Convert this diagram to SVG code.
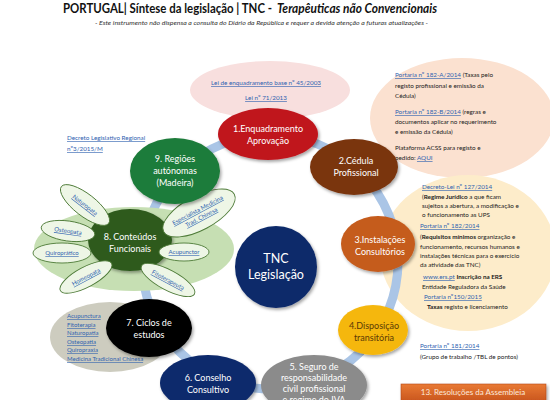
<svg xmlns="http://www.w3.org/2000/svg" width="550" height="400" viewBox="0 0 550 400">
<defs>
<style>
text{font-family:Lato,"Liberation Sans",sans-serif}
.w{fill:#fff}
.lk{fill:#2f62b0;text-decoration:underline}
.sm{font-size:6.3px;fill:#222}
.nd{font-size:9px;text-anchor:middle}
.petal{fill:#eef6e6;stroke:#4d7a37;stroke-width:0.9}
.ptx{font-size:6px;text-anchor:middle;fill:#2f62b0;text-decoration:underline}
.b{font-weight:bold}
.ttl{font-size:12.5px;font-weight:bold;fill:#111}
</style>
<filter id="sh" x="-20%" y="-20%" width="140%" height="150%">
<feDropShadow dx="1.5" dy="2" stdDeviation="1.6" flood-color="#000" flood-opacity="0.35"/>
</filter>
<linearGradient id="og" x1="0" y1="0" x2="0" y2="1">
<stop offset="0" stop-color="#e97a34"/>
<stop offset="1" stop-color="#c4501a"/>
</linearGradient>
</defs>
<rect width="550" height="400" fill="#fff"/>

<g id="title">
<text class="ttl" x="63" y="13" textLength="209" lengthAdjust="spacingAndGlyphs">PORTUGAL| Síntese da legislação | TNC -</text>
<text class="ttl" x="277" y="13" font-style="italic" textLength="160" lengthAdjust="spacingAndGlyphs">Terapêuticas não Convencionais</text>
<text x="95" y="25" font-size="6.4" font-style="italic" fill="#333" textLength="333" lengthAdjust="spacingAndGlyphs">- Este instrumento não dispensa a consulta do Diário da República e requer a devida atenção a futuras atualizações -</text>
</g>

<g id="bg-lei">
<ellipse cx="270" cy="90" rx="80" ry="29" fill="#f8dfde"/>
<text x="266" y="85" class="lk" font-size="6.3" text-anchor="middle">Lei de enquadramento base nº 45/2003</text>
<text x="266" y="100" class="lk" font-size="6.3" text-anchor="middle">Lei nº 71/2013</text>
</g>

<g id="bg-cedula">
<ellipse cx="462" cy="118" rx="92" ry="60" fill="#fbe1d0"/>
<text class="sm" x="395" y="77"><tspan class="lk">Portaria nº 182-A/2014</tspan> (Taxas pelo</text>
<text class="sm" x="395" y="88">registo profissional e emissão da</text>
<text class="sm" x="395" y="98">Cédula)</text>
<text class="sm" x="395" y="114"><tspan class="lk">Portaria nº 182-B/2014</tspan> (regras e</text>
<text class="sm" x="395" y="124">documentos aplicar no requerimento</text>
<text class="sm" x="395" y="134">e emissão da Cédula)</text>
<text class="sm" x="395" y="150">Plataforma ACSS para registo e</text>
<text class="sm" x="395" y="160">pedido: <tspan class="lk">AQUI</tspan></text>
</g>

<g id="bg-instalacoes">
<ellipse cx="468" cy="253" rx="88" ry="78" fill="#fdecca"/>
<text class="sm" x="422" y="189"><tspan class="lk">Decreto-Lei nº 127/2014</tspan></text>
<text class="sm" x="422" y="199">(<tspan class="b">Regime Jurídico</tspan> a que ficam</text>
<text class="sm" x="422" y="208">sujeitos  a abertura, a modificação e</text>
<text class="sm" x="422" y="217">o funcionamento as UPS</text>
<text class="sm" x="420" y="228"><tspan class="lk">Portaria nº 182/2014</tspan></text>
<text class="sm" x="420" y="239">(<tspan class="b">Requisitos mínimos</tspan> organização e</text>
<text class="sm" x="420" y="249">funcionamento, recursos humanos e</text>
<text class="sm" x="420" y="258">instalações técnicas para o exercício</text>
<text class="sm" x="420" y="267">da atividade das TNC)</text>
<text class="sm" x="423" y="279"><tspan class="lk">www.ers.pt</tspan> <tspan class="b">Inscrição na ERS</tspan></text>
<text class="sm" x="422" y="289">Entidade Reguladora da Saúde</text>
<text class="sm" x="424" y="299"><tspan class="lk">Portaria nº150/2015</tspan></text>
<text class="sm" x="427" y="309"><tspan class="b">Taxas</tspan> registo e licenciamento</text>
</g>

<g id="connectors">
<ellipse cx="270" cy="262" rx="128" ry="127" fill="none" stroke="#aac5e6" stroke-width="9"/>
</g>

<g id="node8">
<ellipse cx="134" cy="249" rx="100" ry="42" fill="#c6dfb3"/>
<ellipse cx="130" cy="240" rx="42" ry="31" fill="#2e5a1f" filter="url(#sh)"/>
<text class="nd w" x="130" y="240">8. Conteúdos</text>
<text class="nd w" x="130" y="252">Funcionais</text>
<g transform="translate(85,205) rotate(38)"><ellipse class="petal" rx="30" ry="11"/><text class="ptx" y="2">Naturopata</text></g>
<g transform="translate(68,231) rotate(8)"><ellipse class="petal" rx="27" ry="10"/><text class="ptx" y="2">Osteopata</text></g>
<g transform="translate(62,253)"><ellipse class="petal" rx="29" ry="10"/><text class="ptx" y="2">Quiroprático</text></g>
<g transform="translate(86,277) rotate(-28)"><ellipse class="petal" rx="29" ry="10"/><text class="ptx" y="2">Homeopata</text></g>
<g transform="translate(168,280) rotate(28)"><ellipse class="petal" rx="30" ry="10"/><text class="ptx" y="2">Fitoterapeuta</text></g>
<g transform="translate(184,252)"><ellipse class="petal" rx="25" ry="9"/><text class="ptx" y="2">Acupunctor</text></g>
<g transform="translate(199,213) rotate(-28)"><ellipse class="petal" rx="40" ry="17"/><text class="ptx" y="-1">Especialista Medicina</text><text class="ptx" y="7">Trad. Chinesa</text></g>
</g>

<g id="node9">
<text x="67" y="140" class="lk" font-size="6.3">Decreto Legislativo Regional</text>
<text x="67" y="151" class="lk" font-size="6.3">nº3/2015/M</text>
<ellipse cx="175" cy="171" rx="45" ry="33" fill="#1f7b3a" filter="url(#sh)"/>
<text class="nd w" x="175" y="162">9. Regiões</text>
<text class="nd w" x="175" y="174">autónomas</text>
<text class="nd w" x="175" y="186">(Madeira)</text>
</g>

<g id="node1">
<ellipse cx="268" cy="134" rx="50" ry="26" fill="#c0141c" filter="url(#sh)"/>
<text class="nd w" x="268" y="132">1.Enquadramento</text>
<text class="nd w" x="268" y="144">Aprovação</text>
</g>

<g id="node2">
<ellipse cx="354" cy="167" rx="44" ry="28" fill="#7a3611" filter="url(#sh)"/>
<text class="nd w" x="356" y="164">2.Cédula</text>
<text class="nd w" x="356" y="176">Profissional</text>
</g>

<g id="node3">
<ellipse cx="378" cy="244" rx="37" ry="28" fill="#c55b1d" filter="url(#sh)"/>
<text class="nd w" x="380" y="243">3.Instalações</text>
<text class="nd w" x="380" y="255">Consultórios</text>
</g>

<g id="node4">
<ellipse cx="373" cy="330" rx="35" ry="25" fill="#f5b70e" filter="url(#sh)"/>
<text class="nd" fill="#5b3a06" x="374" y="329">4.Disposição</text>
<text class="nd" fill="#5b3a06" x="374" y="341">transitória</text>
<text x="420" y="348" class="lk" font-size="6.3">Portaria nº 181/2014</text>
<text x="420" y="359" class="sm">(Grupo de trabalho /TBL de pontos)</text>
</g>

<g id="node5">
<ellipse cx="314" cy="385" rx="53" ry="30" fill="#8b8b8b" filter="url(#sh)"/>
<text class="nd w" x="314" y="370">5. Seguro de</text>
<text class="nd w" x="314" y="381">responsabilidade</text>
<text class="nd w" x="314" y="392">civil profissional</text>
<text class="nd w" x="314" y="403">e regime do  IVA</text>
</g>

<g id="node6">
<ellipse cx="208" cy="383" rx="48" ry="28" fill="#0f2b6c" filter="url(#sh)"/>
<text class="nd w" x="208" y="381">6. Conselho</text>
<text class="nd w" x="208" y="393">Consultivo</text>
</g>

<g id="node7">
<ellipse cx="110" cy="337" rx="60" ry="35" fill="#cdccbf"/>
<text x="67" y="318" class="lk" font-size="6">Acupunctura</text>
<text x="67" y="327" class="lk" font-size="6">Fitoterapia</text>
<text x="67" y="335" class="lk" font-size="6">Naturopatia</text>
<text x="67" y="344" class="lk" font-size="6">Osteopatia</text>
<text x="67" y="352" class="lk" font-size="6">Quiropraxia</text>
<text x="67" y="361" class="lk" font-size="6">Medicina Tradicional Chinesa</text>
<ellipse cx="149" cy="328" rx="43" ry="29" fill="#000" filter="url(#sh)"/>
<text class="nd w" x="149" y="326">7. Ciclos de</text>
<text class="nd w" x="149" y="338">estudos</text>
</g>

<g id="center">
<circle cx="276" cy="267" r="41" fill="#0c2a6a" filter="url(#sh)"/>
<text x="276" y="263" font-size="12.5" text-anchor="middle" class="w">TNC</text>
<text x="276" y="279" font-size="12.5" text-anchor="middle" class="w">Legislação</text>
</g>

<g id="node13">
<rect x="401" y="384" width="145" height="20" fill="url(#og)" stroke="#b24a18" stroke-width="0.6" filter="url(#sh)"/>
<text x="473" y="395" font-size="8" text-anchor="middle" fill="#fbe9dc">13. Resoluções da Assembleia</text>
</g>
</svg>
